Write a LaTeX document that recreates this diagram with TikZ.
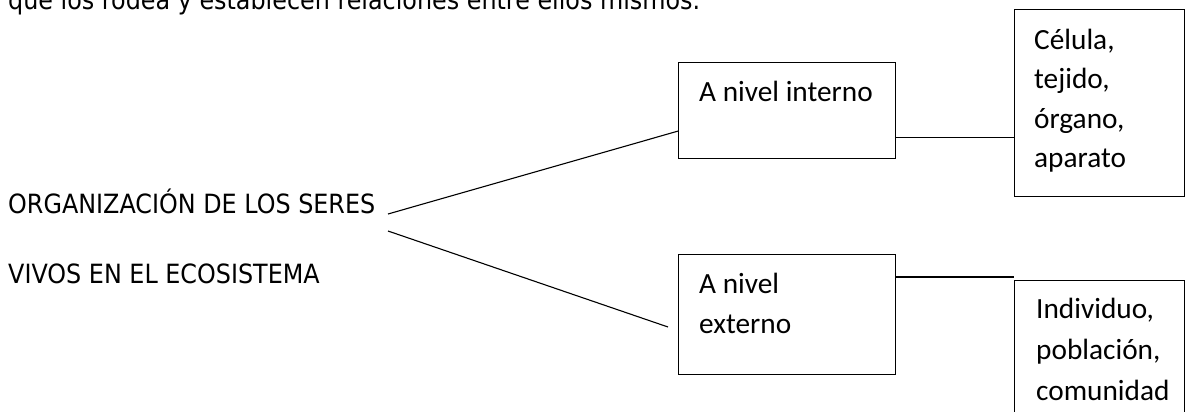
\documentclass[tikz,border=0pt]{standalone}
\usepackage{fontspec}
\newfontfamily\comicfont[FakeStretch=0.9]{DejaVu Sans}
\newfontfamily\boxfont{Carlito}
\begin{document}
\begin{tikzpicture}[x=1pt,y=-1pt,
  comic/.style={font=\comicfont\fontsize{26.5}{30}\selectfont, inner sep=0pt, anchor=base west},
  boxtxt/.style={font=\boxfont\fontsize{29.3}{34}\selectfont, inner sep=0pt, anchor=base west},
  frame/.style={draw, line width=1.1pt, inner sep=0pt, anchor=north west},
  link/.style={line width=1.1pt}]
\useasboundingbox (0,0) rectangle (1186,412);
\clip (0,0) rectangle (1186,412);
% texts on the left
\node[comic] (top) at (8,10) {que los rodea y establecen relaciones entre ellos mismos.};
\node[comic] (org1) at (8,213) {ORGANIZACIÓN DE LOS SERES};
\node[comic] (org2) at (8,283) {VIVOS EN EL ECOSISTEMA};
% boxes
\node[frame, minimum width=217pt, minimum height=96pt] (intbox) at (678,62) {};
\node[frame, minimum width=217pt, minimum height=120pt] (extbox) at (678,254) {};
\node[frame, minimum width=170pt, minimum height=187pt] (celbox) at (1014,9) {};
\node[frame, minimum width=170pt, minimum height=200pt] (indbox) at (1014,280) {};
% box texts
\node[boxtxt] (i1) at (699,101) {A nivel interno};
\node[boxtxt] (e1) at (699,293) {A nivel};
\node[boxtxt] (e2) at (699,333) {externo};
\node[boxtxt] (c1) at (1034,49) {Célula,};
\node[boxtxt] (c2) at (1034,88.5) {tejido,};
\node[boxtxt] (c3) at (1034,128) {órgano,};
\node[boxtxt] (c4) at (1034,167.5) {aparato};
\node[boxtxt] (n1) at (1036,318) {Individuo,};
\node[boxtxt] (n2) at (1036,359) {población,};
\node[boxtxt] (n3) at (1036,400) {comunidad};
% connectors
\coordinate (o1) at (388,214);
\coordinate (o2) at (388,231);
\coordinate (e0) at (668,327);
\draw[link] (o1) -- ([yshift=28pt]intbox.south west);
\draw[link] (o2) -- (e0);
\draw[link] ([yshift=22pt]intbox.south east) -- ([yshift=22pt]intbox.south east -| celbox.west);
\draw[link] ([yshift=-23pt]extbox.north east) -- ([yshift=-23pt]extbox.north east -| indbox.west);
\end{tikzpicture}
\end{document}
